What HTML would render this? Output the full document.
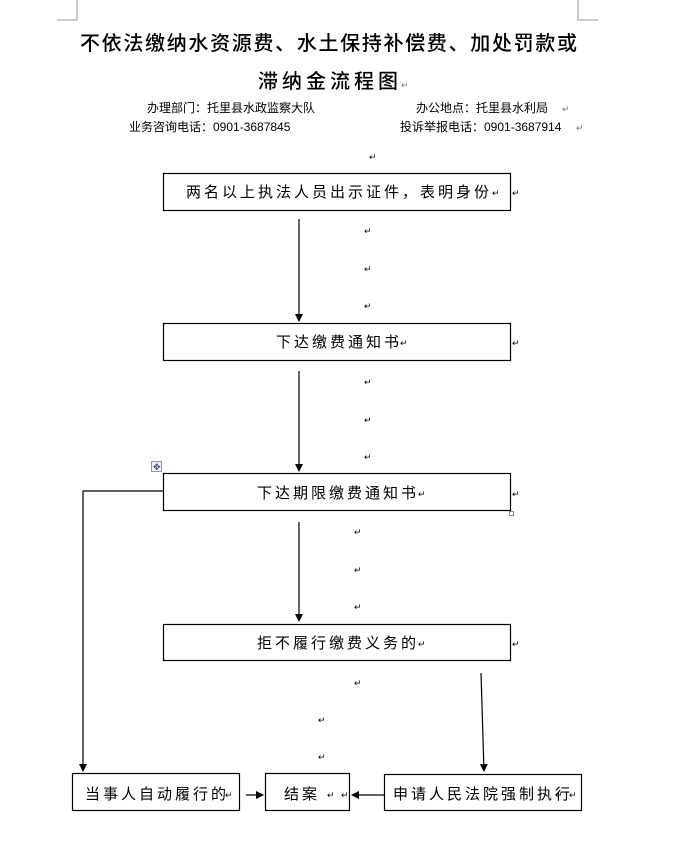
<!DOCTYPE html>
<html><head><meta charset="utf-8"><style>
html,body{margin:0;padding:0;background:#fff;}
svg{display:block;}
text{font-family:"Liberation Sans","Noto Sans CJK SC",sans-serif;fill:#000;}
.r{fill:#777;font-size:9px;}
.b{font-size:15px;letter-spacing:3px;}
</style></head><body>
<svg width="680" height="844" viewBox="0 0 680 844" xmlns="http://www.w3.org/2000/svg">
<defs><marker id="a" markerWidth="8" markerHeight="8" refX="7" refY="4" orient="auto" markerUnits="userSpaceOnUse"><path d="M0,0 L8,4 L0,8 Z" fill="#000"/></marker></defs>
<g stroke="#999" fill="none" stroke-width="1">
<path d="M77,0 V20 H57"/><path d="M578,0 V20 H598"/>
</g>
<text x="80" y="50" textLength="497" lengthAdjust="spacing" style="font-size:20px;font-weight:500">不依法缴纳水资源费、水土保持补偿费、加处罚款或</text>
<text x="258" y="88" textLength="140" lengthAdjust="spacing" style="font-size:20px;font-weight:500">滞纳金流程图</text>
<text x="401" y="88" class="r">↵</text>
<text x="147" y="112" style="font-size:12px">办理部门：托里县水政监察大队</text>
<text x="416" y="112" style="font-size:12px">办公地点：托里县水利局</text>
<text x="129" y="131" style="font-size:12px">业务咨询电话：0901-3687845</text>
<text x="400" y="131" style="font-size:12px">投诉举报电话：0901-3687914</text>
<text x="562" y="112" class="r">↵</text><text x="576" y="131" class="r">↵</text>
<g fill="none" stroke="#000" stroke-width="1.2">
<rect x="163.5" y="173.5" width="347" height="37"/>
<rect x="163.5" y="323.5" width="347" height="37"/>
<rect x="163.5" y="473.5" width="347" height="37"/>
<rect x="163.5" y="624.5" width="347" height="36"/>
<rect x="72.5" y="773.5" width="167" height="37"/>
<rect x="265.5" y="773.5" width="84" height="37"/>
<rect x="384.5" y="774.5" width="197" height="36"/>
<path d="M299,219 V321" marker-end="url(#a)"/>
<path d="M299,371 V471" marker-end="url(#a)"/>
<path d="M299,522 V621" marker-end="url(#a)"/>
<path d="M163,491 H83 V771" marker-end="url(#a)"/>
<path d="M481,673 L484,771" marker-end="url(#a)"/>
<path d="M246,795 H263" marker-end="url(#a)"/>
<path d="M384,795 H352" marker-end="url(#a)"/>
</g>
<rect x="151.5" y="461.5" width="10" height="10" fill="#eef" stroke="#89a"/>
<text x="153" y="470" style="font-size:9px;fill:#347">✥</text>
<rect x="509.5" y="511.5" width="4" height="4" fill="#fff" stroke="#888"/>
<text x="186" y="197" class="b">两名以上执法人员出示证件，表明身份</text>
<text x="276" y="347" class="b">下达缴费通知书</text>
<text x="257" y="498" class="b">下达期限缴费通知书</text>
<text x="257" y="648" class="b">拒不履行缴费义务的</text>
<text x="85" y="799" class="b">当事人自动履行的</text>
<text x="284" y="799" class="b">结案</text>
<text x="393" y="799" class="b">申请人民法院强制执行</text>
<g class="r">
<text x="369" y="160">↵</text>
<text x="492" y="196">↵</text><text x="512" y="196">↵</text>
<text x="364" y="234">↵</text><text x="364" y="272">↵</text><text x="364" y="309">↵</text>
<text x="400" y="346">↵</text><text x="512" y="346">↵</text>
<text x="364" y="385">↵</text><text x="364" y="423">↵</text><text x="364" y="460">↵</text>
<text x="418" y="497">↵</text><text x="512" y="497">↵</text>
<text x="354" y="535">↵</text><text x="354" y="573">↵</text><text x="354" y="610">↵</text>
<text x="418" y="647">↵</text><text x="512" y="647">↵</text>
<text x="354" y="686">↵</text>
<text x="318" y="723">↵</text><text x="318" y="760">↵</text>
<text x="225" y="798">↵</text><text x="327" y="798">↵</text><text x="341" y="798">↵</text>
<text x="555" y="798">↵</text><text x="569" y="798">↵</text>
</g>
</svg>
</body></html>
